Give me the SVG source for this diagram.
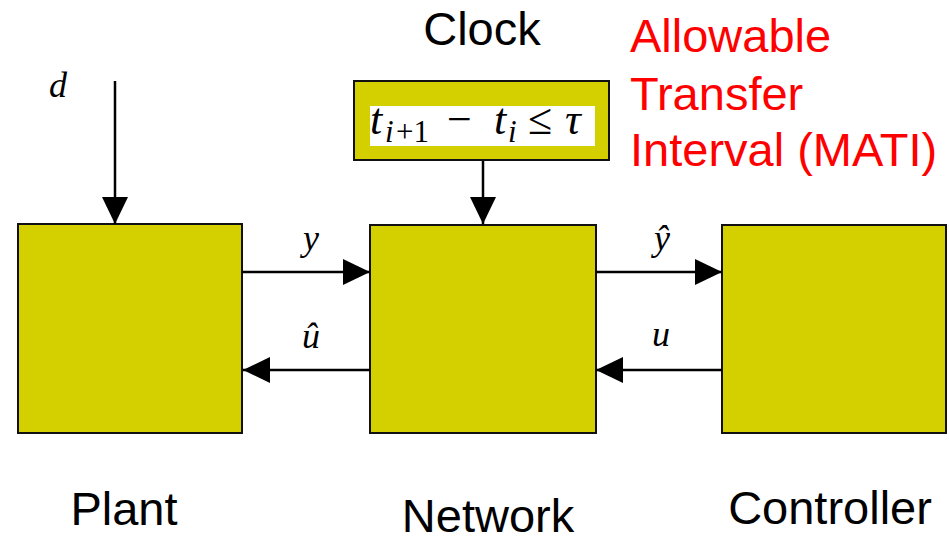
<svg xmlns="http://www.w3.org/2000/svg" width="949" height="542" viewBox="0 0 949 542">
<style>
.box{fill:#D4D000;stroke:#111;stroke-width:2}
.lbl{font-family:"Liberation Sans",Arial,sans-serif;font-size:47px;fill:#000;text-anchor:middle}
.red{font-family:"Liberation Sans",Arial,sans-serif;font-size:47px;fill:#FF0000}
.math{font-family:"Liberation Serif","Times New Roman",serif;font-style:italic;fill:#000}
.conn{stroke:#000;stroke-width:2.5;fill:none;marker-end:url(#ah)}
</style>
<defs>
<marker id="ah" markerUnits="userSpaceOnUse" markerWidth="27" markerHeight="26" refX="27" refY="13" orient="auto">
<path d="M0,0 L27,13 L0,26 z" fill="#000"/>
</marker>
</defs>
<rect width="949" height="542" fill="#fff"/>
<g id="plant">
<rect class="box" x="18" y="224" width="224" height="209"/>
<text class="lbl" x="124" y="525">Plant</text>
</g>
<g id="network">
<rect class="box" x="370" y="225" width="226" height="208"/>
<text class="lbl" x="488" y="532">Network</text>
</g>
<g id="controller">
<rect class="box" x="722" y="225" width="224" height="208"/>
<text class="lbl" x="830" y="524">Controller</text>
</g>
<g id="clock">
<text class="lbl" x="482" y="45">Clock</text>
<rect class="box" x="354" y="81" width="255" height="79"/>
<rect x="370" y="106" width="225" height="40" fill="#fff"/>
<text class="math" font-size="44" y="134"><tspan x="370">t</tspan><tspan x="385" y="142" font-size="31">i</tspan><tspan x="396" y="142" font-size="31" font-style="normal">+1</tspan><tspan x="447" y="134" font-style="normal">−</tspan><tspan x="494" y="134">t</tspan><tspan x="508" y="142" font-size="31">i</tspan><tspan x="528" y="134" font-style="normal">≤</tspan><tspan x="565" y="134">τ</tspan></text>
</g>
<g id="mati">
<text class="red" x="630" y="52">Allowable</text>
<text class="red" x="630" y="110">Transfer</text>
<text class="red" x="630" y="166">Interval (MATI)</text>
</g>
<g id="connectors">
<line class="conn" x1="115" y1="81" x2="115" y2="224"/>
<line class="conn" x1="483" y1="161" x2="483" y2="224"/>
<line class="conn" x1="242" y1="272" x2="370" y2="272"/>
<line class="conn" x1="370" y1="370" x2="243" y2="370"/>
<line class="conn" x1="596" y1="272" x2="722" y2="272"/>
<line class="conn" x1="722" y1="370" x2="596" y2="370"/>
<text class="math" font-size="36" x="49" y="97">d</text>
<text class="math" font-size="36" x="303" y="250">y</text>
<text class="math" font-size="36" x="302" y="348">û</text>
<text class="math" font-size="36" x="654" y="250">ŷ</text>
<text class="math" font-size="36" x="652" y="346">u</text>
</g>
</svg>
